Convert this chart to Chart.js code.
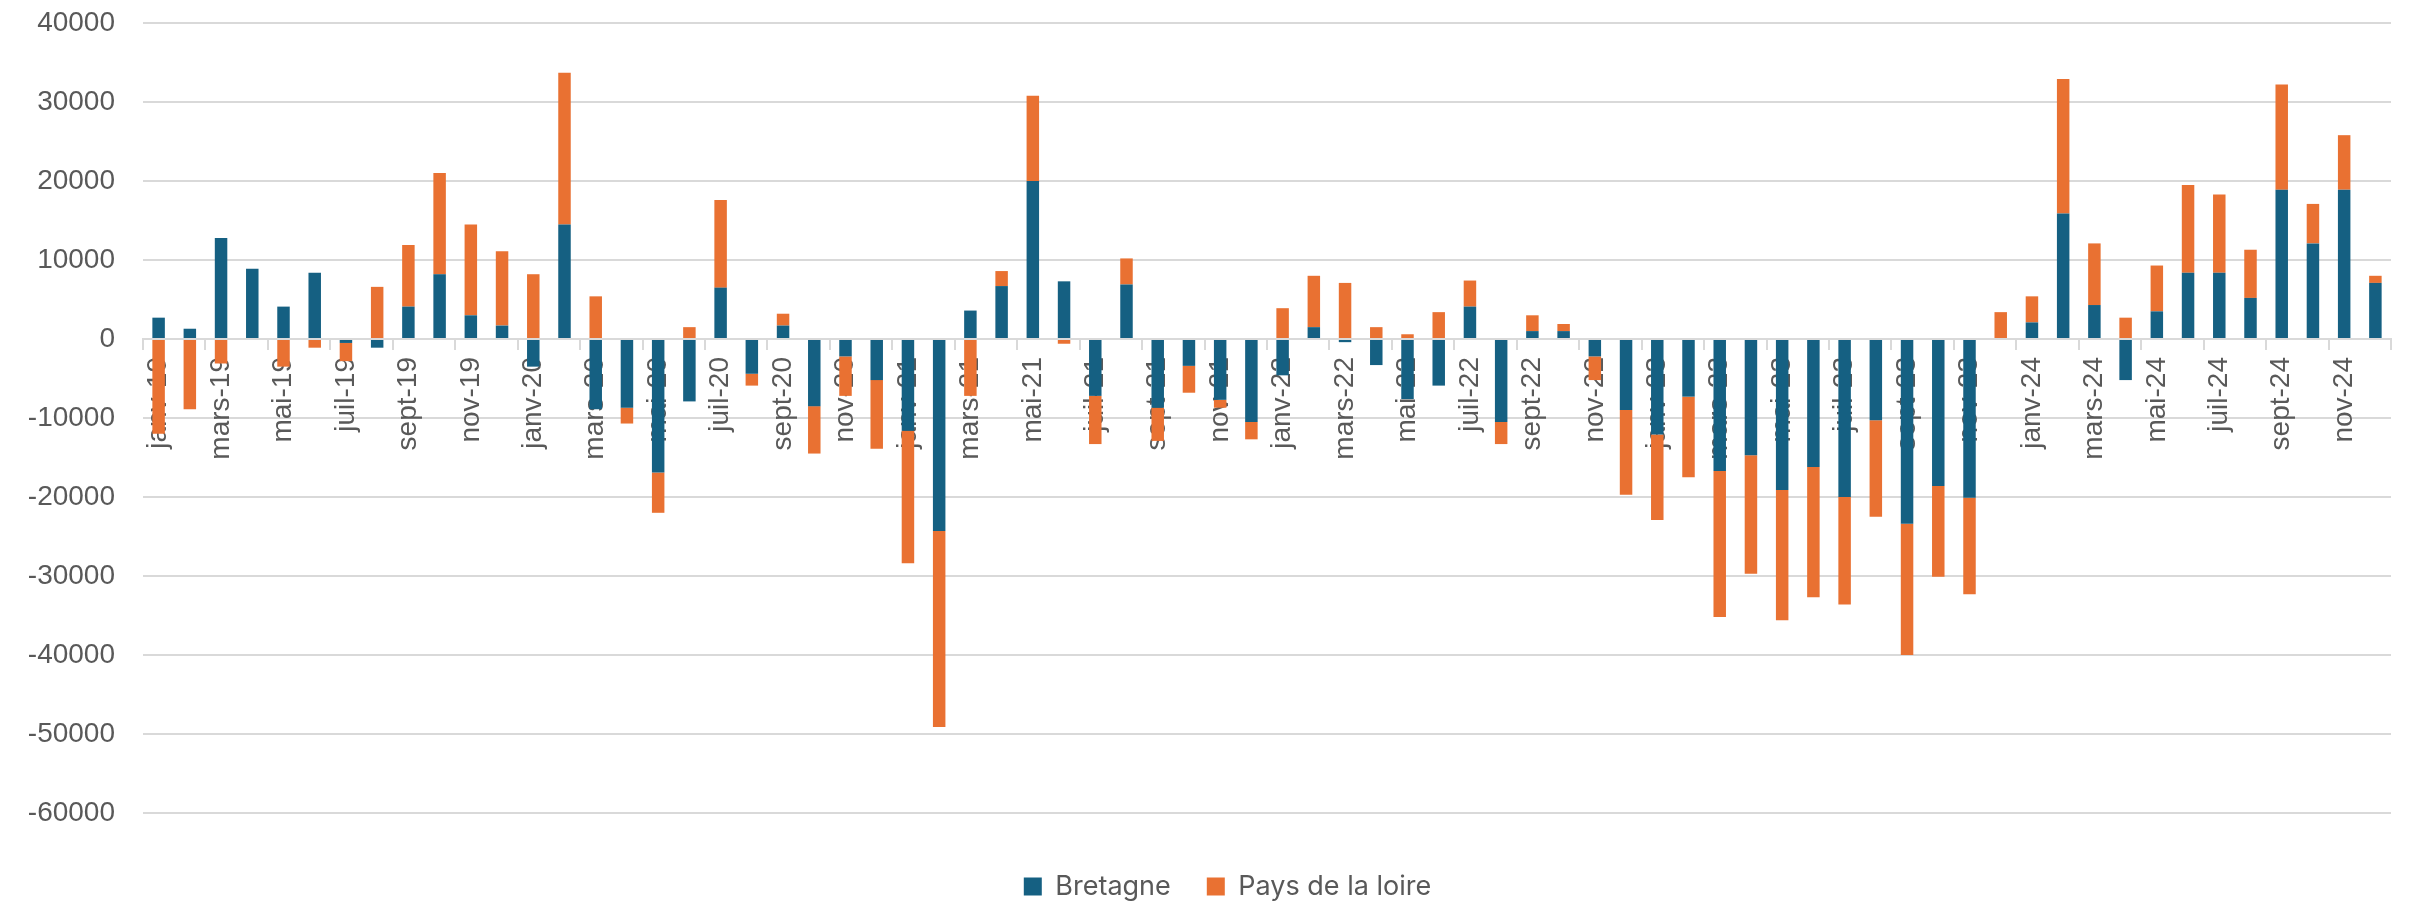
<!DOCTYPE html>
<html>
<head>
<meta charset="utf-8">
<script src="https://cdn.jsdelivr.net/npm/chart.js@4/dist/chart.umd.min.js"></script>
<style>
html,body{margin:0;padding:0;background:#ffffff;}
#c{display:block;}
</style>
</head>
<body>
<canvas id="c" width="2433" height="908"></canvas>
<script>
const monthNames = ['janv','févr','mars','avr','mai','juin','juil','août','sept','oct','nov','déc'];
const years = ['19','20','21','22','23','24'];
const categories = [];
years.forEach(y => monthNames.forEach(m => categories.push(m + '-' + y)));

const bretagne = [
  2700, 1300, 12800, 8900, 4100, 8400, -500, -1100, 4100, 8200, 3000, 1700,
  -3500, 14500, -8900, -8700, -16900, -7900, 6500, -4400, 1700, -8500, -2200, -5200,
  -11600, -24300, 3600, 6700, 20000, 7300, -7200, 6900, -8700, -3400, -7700, -10500,
  -4600, 1500, -400, -3300, -7600, -5900, 4100, -10500, 1000, 1000, -2200, -9000,
  -12100, -7300, -16700, -14700, -19100, -16200, -20000, -10300, -23400, -18600, -20100, 0,
  2100, 15900, 4300, -5200, 3500, 8400, 8400, 5200, 18900, 12100, 18900, 7100
];
const paysDeLaLoire = [
  -12000, -8900, -3100, 0, -3500, -1100, -2300, 6600, 7800, 12800, 11500, 9400,
  8200, 19200, 5400, -2000, -5100, 1500, 11100, -1500, 1500, -6000, -5000, -8700,
  -16800, -24800, -7200, 1900, 10800, -600, -6100, 3300, -4200, -3400, -1000, -2200,
  3900, 6500, 7100, 1500, 600, 3400, 3300, -2800, 2000, 900, -3000, -10700,
  -10800, -10200, -18500, -15000, -16500, -16500, -13600, -12200, -16600, -11500, -12200, 3400,
  3300, 17000, 7800, 2700, 5800, 11100, 9900, 6100, 13300, 5000, 6900, 900
];
const yMin = -60000;
const yMax = 40000;
const yStep = 10000;

const textColor = '#595959';
const gridColor = '#d9d9d9';

const legendShift = {
  id: 'legendShift',
  afterLayout(chart) {
    const l = chart.legend;
    if (l) { l.left += 32; l.right += 32; }
  }
};

new Chart(document.getElementById('c'), {
  type: 'bar',
  data: {
    labels: categories,
    datasets: [
      { label: 'Bretagne', data: bretagne, backgroundColor: '#156082', borderWidth: 0,
        barPercentage: 0.4, categoryPercentage: 1.0 },
      { label: 'Pays de la loire', data: paysDeLaLoire, backgroundColor: '#E97132', borderWidth: 0,
        barPercentage: 0.4, categoryPercentage: 1.0 }
    ]
  },
  plugins: [legendShift],
  options: {
    responsive: false,
    maintainAspectRatio: false,
    devicePixelRatio: 1,
    animation: false,
    events: [],
    layout: { padding: { left: 0, right: 42, top: 23, bottom: -2 } },
    scales: {
      y: {
        stacked: true,
        min: yMin,
        max: yMax,
        afterFit: s => { s.width = 143; },
        ticks: {
          stepSize: yStep,
          padding: 0,
          color: textColor,
          font: { family: "'Liberation Sans', Arial, sans-serif", size: 28 },
          callback: v => String(v)
        },
        grid: { color: gridColor, lineWidth: 2, drawTicks: true, tickLength: 28, tickColor: 'rgba(0,0,0,0)' },
        border: { display: false }
      },
      x: {
        type: 'category',
        stacked: true,
        offset: true,
        position: { y: 0 },
        grid: {
          display: true,
          drawOnChartArea: false,
          drawTicks: true,
          tickLength: 10,
          offset: true,
          lineWidth: 2,
          color: c => (c.index === undefined || c.index % 2 === 0) ? gridColor : 'rgba(0,0,0,0)'
        },
        border: { display: true, color: gridColor, width: 2 },
        ticks: {
          autoSkip: false,
          minRotation: 90,
          maxRotation: 90,
          padding: 8,
          color: textColor,
          font: { family: "'Liberation Sans', Arial, sans-serif", size: 28 },
          callback: function (v, i) { return i % 2 === 0 ? this.getLabelForValue(v) : ''; }
        }
      }
    },
    plugins: {
      tooltip: { enabled: false },
      title: { display: false },
      legend: {
        display: true,
        position: 'bottom',
        title: { display: true, text: '', padding: { top: 6, bottom: 6 }, font: { size: 10 } },
        labels: {
          boxWidth: 18,
          boxHeight: 18,
          padding: 36,
          color: textColor,
          font: { family: "Inter, 'Open Sans', sans-serif", size: 27 }
        }
      }
    }
  }
});
</script>
</body>
</html>
